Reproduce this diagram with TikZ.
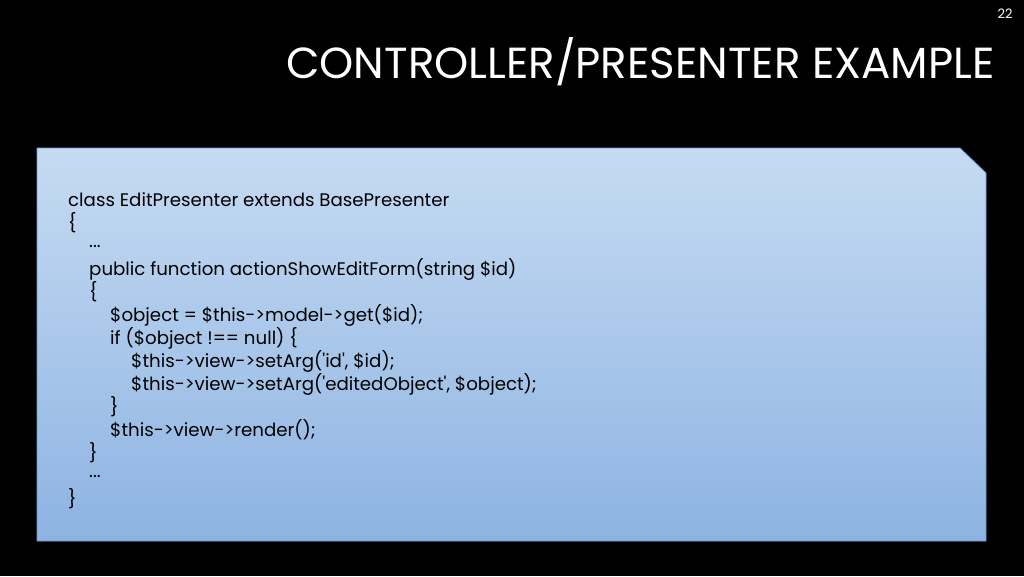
\documentclass[tikz,border=0pt]{standalone}
\usepackage{fontspec}
\setmainfont{Poppins}
\usetikzlibrary{positioning}
\definecolor{boxtop}{HTML}{C6DBF2}
\definecolor{boxbot}{HTML}{8DB3E2}
\definecolor{boxline}{HTML}{6F9BD0}
\newcommand{\sq}{\textquotesingle}
\tikzset{codeline/.style={anchor=west,inner sep=0pt,font=\fontsize{18.2}{20}\selectfont}}
\begin{document}
\begin{tikzpicture}[x=1pt,y=-1pt]
  % background
  \fill[black] (0,0) rectangle (1024,576);
  \useasboundingbox (0,0) rectangle (1024,576);

  % heading and slide number
  \node[text=white,anchor=east,font=\fontsize{43.5}{46}\selectfont] (title) at (998,62) {CONTROLLER/PRESENTER EXAMPLE};
  \node[text=white,anchor=east,font=\fontsize{13}{15}\selectfont] (num) at (1016,14) {22};

  % code box with snipped corner
  \shade[top color=boxtop,bottom color=boxbot,draw=boxline,line width=0.8pt]
    (37,148) -- (960,148) -- (986,173) -- (986,541) -- (37,541) -- cycle;

  % code lines
  \foreach \n/\ind/\txt in {
      0/0/{class EditPresenter extends BasePresenter},
      1/0/\{,
      2/1/{...},
      3/1/{public function actionShowEditForm(string \$id)},
      4/1/\{,
      5/2/{\$object = \$this->model->get(\$id);},
      6/2/{if (\$object !== null) \{},
      7/3/{\$this->view->setArg(\sq id\sq, \$id);},
      8/3/{\$this->view->setArg(\sq editedObject\sq, \$object);},
      9/2/\},
      10/2/{\$this->view->render();},
      11/1/\},
      12/1/{...},
      13/0/\}}
  {
    \node[codeline] (code\n) at (68+21*\ind,200+23*\n) {\txt};
  }
\end{tikzpicture}
\end{document}
